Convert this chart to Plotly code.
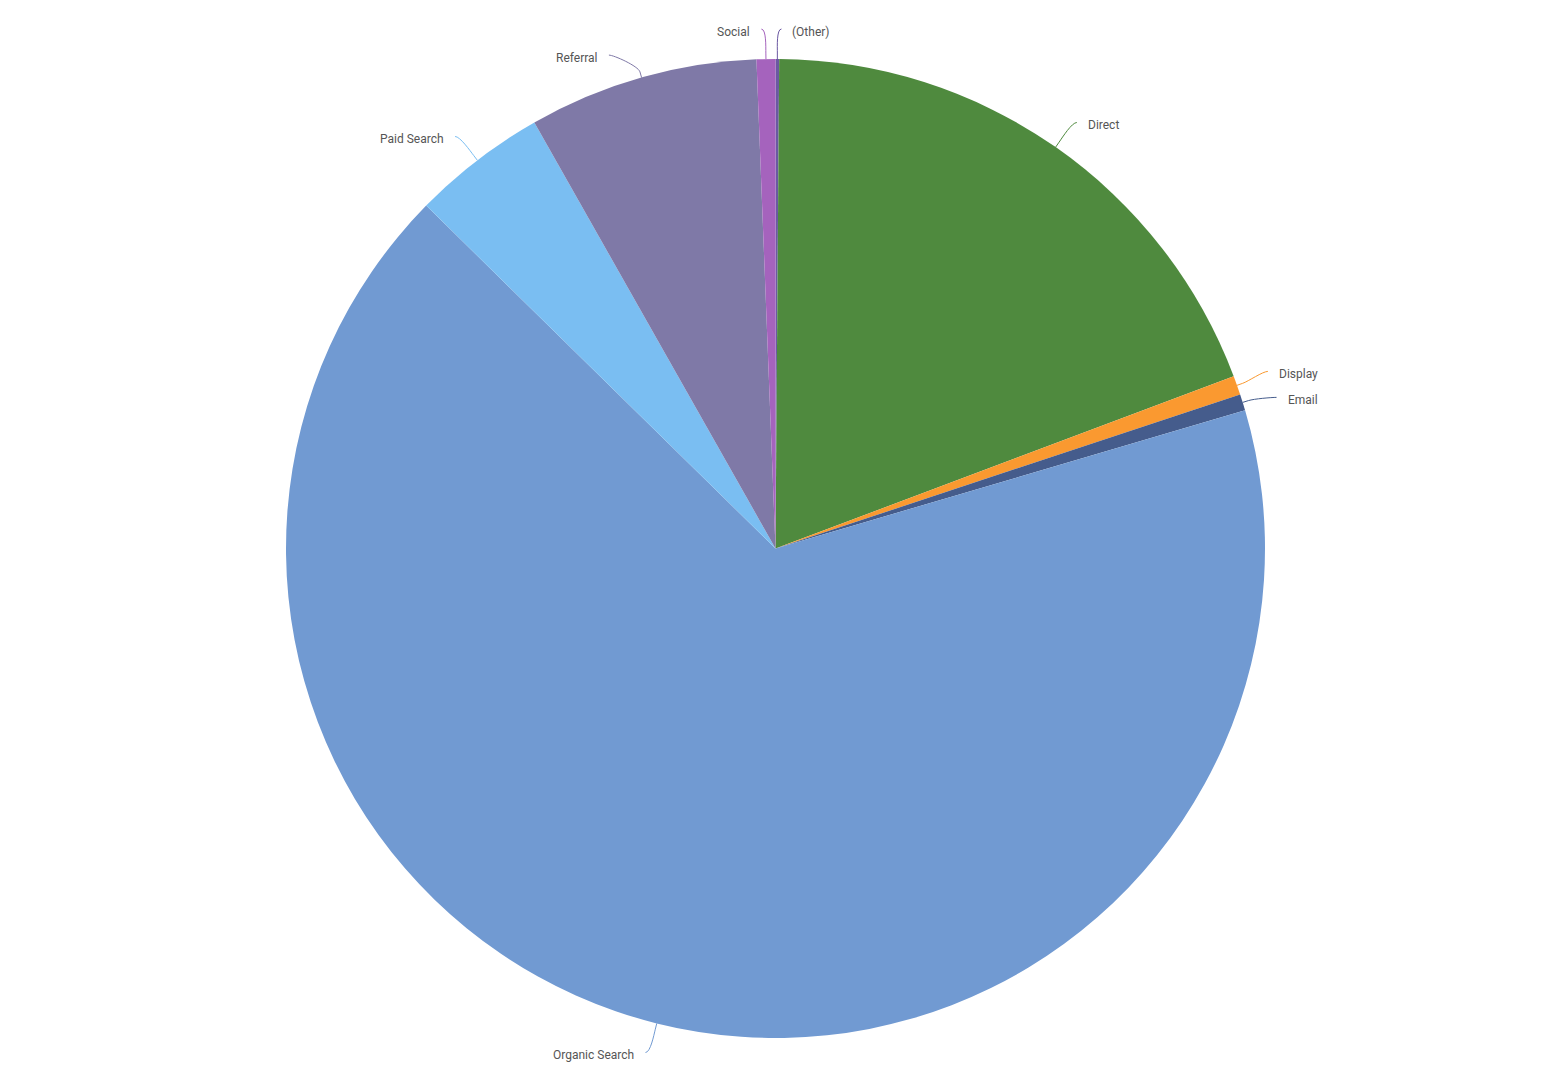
import math
import plotly.graph_objects as go

# ---- data ----
labels = ["(Other)", "Direct", "Display", "Email", "Organic Search",
          "Paid Search", "Referral", "Social"]
values = [0.12, 19.16, 0.63, 0.54, 66.92, 4.45, 7.58, 0.62]
colors = ["#6b58a2", "#4f8a3e", "#fa9930", "#455c8c", "#719ad2",
          "#7abef2", "#7f79a7", "#a563bd"]

# ---- geometry (pixels) ----
W, H = 1561, 1080
CX, CY, R = 775.5, 548.5, 489.5
DIST = 30
SPACING = 26


def px(x):
    return x / W


def py(y):
    return 1 - y / H


fig = go.Figure(go.Pie(
    labels=labels, values=values, sort=False, direction="clockwise",
    rotation=0, marker=dict(colors=colors, line=dict(width=0)),
    textinfo="none", hoverinfo="label+percent", showlegend=False,
    domain=dict(x=[0, 2 * CX / W], y=[1 - (CY + R) / H, 1 - (CY - R) / H]),
))

total = sum(values)
cum = 0.0
items = []
for lab, v, c in zip(labels, values, colors):
    a0 = cum / total * 360
    cum += v
    a1 = cum / total * 360
    mid = math.radians((a0 + a1) / 2)
    s, co = math.sin(mid), math.cos(mid)
    side = 1 if s >= 0 else -1
    items.append(dict(label=lab, color=c, s=s, co=co, side=side,
                      x=CX + (R + DIST) * s, y=CY - (R + DIST) * co,
                      moved=False))

# simple label distribution per side (split overlap, clamp at top)
YMIN = CY - (R + DIST)
for side in (1, -1):
    grp = sorted([it for it in items if it["side"] == side], key=lambda d: d["y"])
    for i in range(1, len(grp)):
        a, b = grp[i - 1], grp[i]
        gap = b["y"] - a["y"]
        if gap < SPACING:
            need = SPACING - gap
            up = min(need / 2, a["y"] - YMIN)
            if i > 1:
                up = min(up, max(0, a["y"] - grp[i - 2]["y"] - SPACING))
            if up < 1:
                up = 0
            a["y"] -= up
            b["y"] += need - up
            a["moved"] = a["moved"] or up > 0
            b["moved"] = True
    for it in grp:
        if it["moved"]:
            rr = R + DIST
            ang = math.asin(max(-1, min(1, (it["y"] - CY) / rr)))
            it["x"] = CX + side * math.cos(ang) * rr

shapes = []
annotations = []
for it in items:
    side, s, co = it["side"], it["s"], it["co"]
    ex, ey = it["x"] + side * 4, it["y"]
    tx, ty = CX + R * s, CY - R * co
    bx, by = CX + (R + 6) * s, CY - (R + 6) * co
    c1x, c1y = ex - side * 5, ey
    c2x, c2y = 2 * bx - tx, 2 * by - ty
    path = (f"M {px(ex)},{py(ey)} C {px(c1x)},{py(c1y)} {px(c2x)},{py(c2y)} "
            f"{px(bx)},{py(by)} L {px(tx)},{py(ty)}")
    shapes.append(dict(type="path", path=path, xref="paper", yref="paper",
                       line=dict(color=it["color"], width=1)))
    annotations.append(dict(
        x=px(ex + side * 9), y=py(ey + 2.5), xref="paper", yref="paper",
        text=it["label"], showarrow=False,
        xanchor="left" if side > 0 else "right", yanchor="middle",
        font=dict(family="Roboto", size=12, color="#555555"),
    ))

fig.update_layout(
    width=W, height=H, margin=dict(l=0, r=0, t=0, b=0),
    paper_bgcolor="white", plot_bgcolor="white",
    shapes=shapes, annotations=annotations, showlegend=False,
)

fig.write_html("out.html", config={"displayModeBar": False},
               post_script="document.body.style.margin='0';"
                           "document.body.style.overflow='hidden';")
